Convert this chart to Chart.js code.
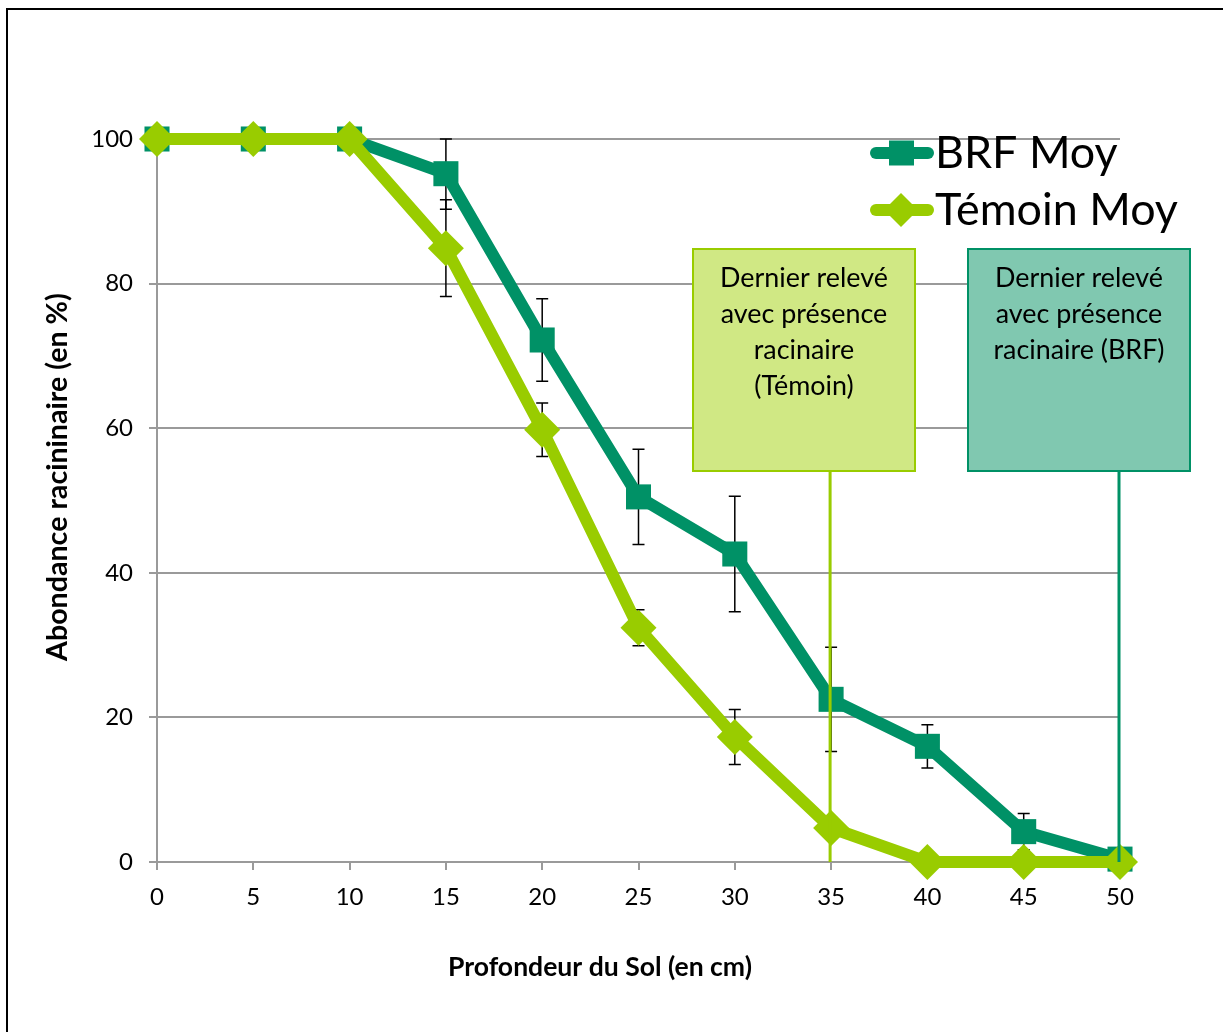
<!DOCTYPE html>
<html>
<head>
<meta charset="utf-8">
<script src="https://cdn.jsdelivr.net/npm/chart.js@4.4.1/dist/chart.umd.min.js"></script>
<style>
  html, body { margin: 0; padding: 0; background: #fff; overflow: hidden; }
  #wrap { position: relative; width: 1223px; height: 1032px; }
  #frame { position: absolute; left: 6px; top: 8px; width: 1300px; height: 1100px;
           border-left: 2px solid #000; border-top: 2px solid #000; }
  canvas { position: absolute; left: 0; top: 0; }
</style>
</head>
<body>
<div id="wrap">
  <div id="frame"></div>
  <canvas id="c" width="1223" height="1032"></canvas>
</div>
<script>
// ---- data ----
const depths = [0, 5, 10, 15, 20, 25, 30, 35, 40, 45, 50];
const brfMoy = [100, 100, 100, 95.2, 72.2, 50.5, 42.6, 22.5, 16.0, 4.2, 0.4];
const brfErr = [0, 0, 0, 4.9, 5.7, 6.6, 8.0, 7.2, 3.0, 2.5, 0.5];
const temoinMoy = [100, 100, 100, 84.9, 59.8, 32.4, 17.3, 4.7, 0, 0, 0];
const temoinErr = [0, 0, 0, 6.7, 3.7, 2.5, 3.8, 1.5, 0, 0, 0];
const seriesNames = ['BRF Moy', 'Témoin Moy'];
const yTicks = [0, 20, 40, 60, 80, 100];
const xTitle = 'Profondeur du Sol (en cm)';
const yTitle = 'Abondance racininaire (en %)';
const noteTemoin = ['Dernier relevé', 'avec présence', 'racinaire', '(Témoin)'];
const noteBrf = ['Dernier relevé', 'avec présence', 'racinaire (BRF)'];
const noteTemoinDepth = 35;
const noteBrfDepth = 50;

const BRF = '#009166';
const TEM = '#99cc00';
const FONT = 'Lato, "Open Sans", sans-serif';

const toXY = (ys) => depths.map((d, i) => ({ x: d, y: ys[i] }));

// font size so that `text` spans `target` px
function fitFont(ctx, text, target, weight) {
  ctx.font = weight + ' 100px ' + FONT;
  const w = ctx.measureText(text).width;
  return 100 * target / w;
}

const errorBars = {
  id: 'errorBars',
  beforeDatasetsDraw(chart) {
    const { ctx, scales: { x, y } } = chart;
    ctx.save();
    ctx.strokeStyle = '#000';
    ctx.lineWidth = 1.5;
    const draw = (vals, errs) => {
      vals.forEach((v, i) => {
        const e = errs[i];
        if (!e) return;
        const px = x.getPixelForValue(depths[i]);
        const t = y.getPixelForValue(Math.min(v + e, 100));
        const b = y.getPixelForValue(Math.max(v - e, 0));
        ctx.beginPath();
        ctx.moveTo(px, t); ctx.lineTo(px, b);
        ctx.moveTo(px - 6, t); ctx.lineTo(px + 6, t);
        ctx.moveTo(px - 6, b); ctx.lineTo(px + 6, b);
        ctx.stroke();
      });
    };
    draw(brfMoy, brfErr);
    draw(temoinMoy, temoinErr);
    ctx.restore();
  }
};

const overlays = {
  id: 'overlays',
  afterDraw(chart) {
    const { ctx, scales: { x, y } } = chart;
    ctx.save();
    // axis titles
    ctx.fillStyle = '#000';
    ctx.textAlign = 'center';
    ctx.textBaseline = 'middle';
    const xs = fitFont(ctx, xTitle, 304, 'bold');
    ctx.font = 'bold ' + xs + 'px ' + FONT;
    ctx.fillText(xTitle, 600, 967);
    const ys = fitFont(ctx, yTitle, 368, 'bold');
    ctx.font = 'bold ' + ys + 'px ' + FONT;
    ctx.save();
    ctx.translate(58, 477);
    ctx.rotate(-Math.PI / 2);
    ctx.fillText(yTitle, 0, 0);
    ctx.restore();

    // annotation boxes
    const boxFont = fitFont(ctx, noteTemoin[0], 168, 'normal');
    const box = (bx, by, bw, bh, fill, stroke, lines, depth) => {
      const lx = x.getPixelForValue(depth);
      ctx.strokeStyle = stroke;
      ctx.lineWidth = 3;
      ctx.beginPath();
      ctx.moveTo(lx - 1, by + bh);
      ctx.lineTo(lx - 1, y.getPixelForValue(0));
      ctx.stroke();
      ctx.fillStyle = fill;
      ctx.fillRect(bx, by, bw, bh);
      ctx.lineWidth = 2;
      ctx.strokeRect(bx, by, bw, bh);
      ctx.fillStyle = '#000';
      ctx.font = boxFont + 'px ' + FONT;
      ctx.textAlign = 'center';
      ctx.textBaseline = 'middle';
      lines.forEach((t, i) => ctx.fillText(t, bx + bw / 2, by + 29 + i * 36));
    };
    box(693, 249, 222, 222, '#d0e884', TEM, noteTemoin, noteTemoinDepth);
    box(968, 249, 222, 222, '#80c8b0', BRF, noteBrf, noteBrfDepth);

    // legend
    const legFont = fitFont(ctx, seriesNames[1], 243, 'normal');
    const leg = (cy, color, style, label) => {
      ctx.strokeStyle = color;
      ctx.lineWidth = 12;
      ctx.lineCap = 'round';
      ctx.beginPath();
      ctx.moveTo(876, cy); ctx.lineTo(928, cy);
      ctx.stroke();
      ctx.fillStyle = color;
      ctx.beginPath();
      if (style === 'rect') {
        ctx.rect(889, cy - 12.5, 25, 25);
      } else {
        ctx.moveTo(901, cy - 17); ctx.lineTo(918, cy); ctx.lineTo(901, cy + 17); ctx.lineTo(884, cy);
        ctx.closePath();
      }
      ctx.fill();
      ctx.fillStyle = '#000';
      ctx.font = legFont + 'px ' + FONT;
      ctx.textAlign = 'left';
      ctx.textBaseline = 'middle';
      ctx.fillText(label, 935, cy + 1);
    };
    leg(153, BRF, 'rect', seriesNames[0]);
    leg(210, TEM, 'rectRot', seriesNames[1]);
    ctx.restore();
  }
};

new Chart(document.getElementById('c'), {
  type: 'line',
  data: {
    datasets: [
      {
        label: seriesNames[1],
        data: toXY(temoinMoy),
        borderColor: TEM, backgroundColor: TEM,
        borderWidth: 12, pointStyle: 'rectRot', pointRadius: 18,
        pointBorderWidth: 0, pointHoverRadius: 18, order: 0, clip: false
      },
      {
        label: seriesNames[0],
        data: toXY(brfMoy),
        borderColor: BRF, backgroundColor: BRF,
        borderWidth: 12, pointStyle: 'rect', pointRadius: 17.7,
        pointBorderWidth: 0, pointHoverRadius: 17.7, order: 1, clip: false
      }
    ]
  },
  options: {
    responsive: false,
    animation: false,
    events: [],
    layout: { padding: { left: 0, top: 139, right: 103, bottom: 0 } },
    plugins: { legend: { display: false }, tooltip: { enabled: false } },
    scales: {
      x: {
        type: 'linear', min: 0, max: 50,
        afterFit(s) { s.height = 170; },
        afterBuildTicks(s) { s.ticks = depths.map(v => ({ value: v })); },
        grid: { drawOnChartArea: false, drawTicks: true, tickLength: 8, color: '#9a9a9a', lineWidth: 2 },
        border: { display: true, color: '#9a9a9a', width: 2 },
        ticks: { padding: 13, color: '#000', font: { family: FONT, size: 24 } }
      },
      y: {
        type: 'linear', min: 0, max: 100,
        afterFit(s) { s.width = 157; },
        afterBuildTicks(s) { s.ticks = yTicks.map(v => ({ value: v })); },
        grid: { drawTicks: true, tickLength: 8, color: '#9a9a9a', lineWidth: 2 },
        border: { display: true, color: '#9a9a9a', width: 2 },
        ticks: { padding: 16, color: '#000', font: { family: FONT, size: 24 } }
      }
    }
  },
  plugins: [errorBars, overlays]
});
</script>
</body>
</html>
